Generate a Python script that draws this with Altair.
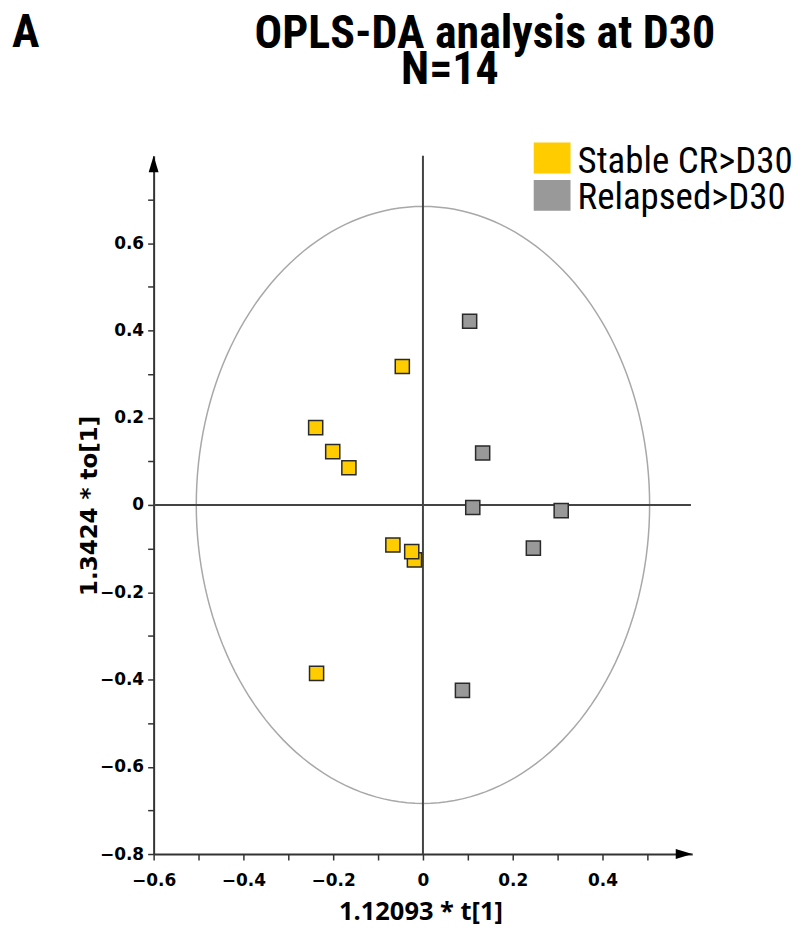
import altair as alt
import pandas as pd

# ---- data ----
groups = ["Stable CR>D30"] * 8 + ["Relapsed>D30"] * 6
t1 = [-0.046, -0.239, -0.201, -0.165, -0.067, -0.019, -0.025, -0.237,
      0.104, 0.133, 0.111, 0.308, 0.246, 0.088]
to1 = [0.317, 0.177, 0.122, 0.085, -0.092, -0.126, -0.107, -0.386,
       0.421, 0.119, -0.006, -0.013, -0.099, -0.425]
categories = ["Stable CR>D30", "Relapsed>D30"]
colors = ["#FFCC00", "#999999"]
x_ticks = [-0.6, -0.5, -0.4, -0.3, -0.2, -0.1, 0.0, 0.1, 0.2, 0.3, 0.4, 0.5]
y_ticks = [-0.8, -0.7, -0.6, -0.5, -0.4, -0.3, -0.2, -0.1, 0.0, 0.1, 0.2, 0.3, 0.4, 0.5, 0.6, 0.7]
title_lines = ["OPLS-DA analysis at D30", "N=14"]
panel_label = "A"
x_title = "1.12093 * t[1]"
y_title = "1.3424 * to[1]"
ELL_A = 0.505   # Hotelling T2 ellipse semi-axes
ELL_B = 0.684
X_DOM = [-0.6, 0.6]
Y_DOM = [-0.8, 0.8]

df = pd.DataFrame({"t1": t1, "to1": to1, "group": groups})

W, H = 540, 700
TITLE_FONT = "Roboto Condensed"
TEXT_FONT = "Open Sans"
LBL = "DejaVu Sans"

label_expr = ("abs(round(datum.value*10)) % 2 == 0 ? "
              "(abs(datum.value) < 1e-9 ? '0' : format(datum.value, '.1f')) : ''")

common_axis = dict(grid=False, title=None, domainColor="#333", domainWidth=2,
                   tickColor="#333", tickWidth=1.5, tickSize=6, labelFlush=False,
                   labelOverlap=False, labelFont=LBL, labelFontWeight="bold",
                   labelFontSize=17, labelColor="#000")
xax = alt.Axis(values=x_ticks, labelExpr=label_expr, labelPadding=13, **common_axis)
yax = alt.Axis(values=y_ticks, labelExpr=label_expr, labelPadding=4, **common_axis)

xs = alt.Scale(domain=X_DOM, nice=False, zero=False)
ys = alt.Scale(domain=Y_DOM, nice=False, zero=False)


def X(f):
    return alt.X(f, type="quantitative", scale=xs, axis=xax)


def Y(f):
    return alt.Y(f, type="quantitative", scale=ys, axis=yax)


ellipse = (
    alt.Chart(alt.sequence(0, 362, 2, as_="ang"))
    .transform_calculate(ex=f"{ELL_A}*cos(datum.ang*PI/180)",
                         ey=f"{ELL_B}*sin(datum.ang*PI/180)")
    .mark_line(color="#a8a8a8", strokeWidth=1.5)
    .encode(x=X("ex"), y=Y("ey"), order="ang:Q")
)

vline = (
    alt.Chart(pd.DataFrame({"x": [0.0], "y": [Y_DOM[0]], "y2": [Y_DOM[1]]}))
    .mark_rule(color="#444", strokeWidth=2)
    .encode(x=X("x"), y=Y("y"), y2="y2")
)
hline = (
    alt.Chart(pd.DataFrame({"y": [0.0], "x": [X_DOM[0]], "x2": [0.597]}))
    .mark_rule(color="#444", strokeWidth=2)
    .encode(y=Y("y"), x=X("x"), x2="x2")
)

up_arrow = (
    alt.Chart(pd.DataFrame({"x": [X_DOM[0]], "y": [Y_DOM[1]]}))
    .mark_point(shape="M0,0L-0.3,1L0.3,1Z", filled=True, color="#000", size=1100, opacity=1)
    .encode(x=X("x"), y=Y("y"))
)
right_arrow = (
    alt.Chart(pd.DataFrame({"x": [X_DOM[1]], "y": [Y_DOM[0]]}))
    .mark_point(shape="M0,0L-1,-0.3L-1,0.3Z", filled=True, color="#000", size=1100, opacity=1)
    .encode(x=X("x"), y=Y("y"))
)

points = (
    alt.Chart(df)
    .mark_point(shape="square", filled=True, size=200, stroke="#2a2a2a",
                strokeWidth=1.5, opacity=1)
    .encode(
        x=X("t1"), y=Y("to1"),
        fill=alt.Fill("group:N", scale=alt.Scale(domain=categories, range=colors), legend=None),
    )
)

layers = [ellipse, vline, hline, up_arrow, right_arrow, points]

# legend (manual)
leg_sym_x, leg_sym_y0, leg_step = 399.5, 2.2, 37.5
for i, (cat, col) in enumerate(zip(categories, colors)):
    d = pd.DataFrame({"label": [cat]})
    layers.append(
        alt.Chart(d).mark_point(shape="M-1.19,-1H1.19V1H-1.19Z", filled=True, color=col,
                                size=961, opacity=1)
        .encode(x=alt.value(leg_sym_x), y=alt.value(leg_sym_y0 + i * leg_step))
    )
    layers.append(
        alt.Chart(d).mark_text(align="left", baseline="alphabetic", font=TITLE_FONT,
                               fontWeight="normal", fontSize=37, color="#000")
        .encode(x=alt.value(425), y=alt.value(17 + i * 36), text="label:N")
    )

# axis titles
layers.append(
    alt.Chart(pd.DataFrame({"t": [x_title]}))
    .mark_text(align="center", baseline="alphabetic", font=TEXT_FONT, fontWeight="bold",
               fontSize=25.5, color="#000")
    .encode(x=alt.value(268), y=alt.value(766), text="t:N")
)
layers.append(
    alt.Chart(pd.DataFrame({"t": [y_title]}))
    .mark_text(align="center", baseline="alphabetic", font=LBL, fontWeight="bold",
               fontSize=23, color="#000", angle=270)
    .encode(x=alt.value(-57), y=alt.value(351), text="t:N")
)

# titles
title_pos = [(332, -108), (297, -72)]
for line, (tx, ty) in zip(title_lines, title_pos):
    layers.append(
        alt.Chart(pd.DataFrame({"t": [line]}))
        .mark_text(align="center", baseline="alphabetic", font=TITLE_FONT, fontWeight="bold",
                   fontSize=46, color="#000")
        .encode(x=alt.value(tx), y=alt.value(ty), text="t:N")
    )
layers.append(
    alt.Chart(pd.DataFrame({"t": [panel_label]}))
    .mark_text(align="left", baseline="alphabetic", font=TITLE_FONT, fontWeight="bold",
               fontSize=46, color="#000")
    .encode(x=alt.value(-142), y=alt.value(-109), text="t:N")
)

chart = (
    alt.layer(*layers)
    .properties(width=W, height=H, background="white",
                autosize=alt.AutoSizeParams(type="none"),
                padding={"left": 146, "top": 147, "right": 105, "bottom": 73})
    .configure_view(stroke=None, strokeWidth=0)
)

chart.save("out.html", embed_options={"renderer": "svg", "actions": False})
